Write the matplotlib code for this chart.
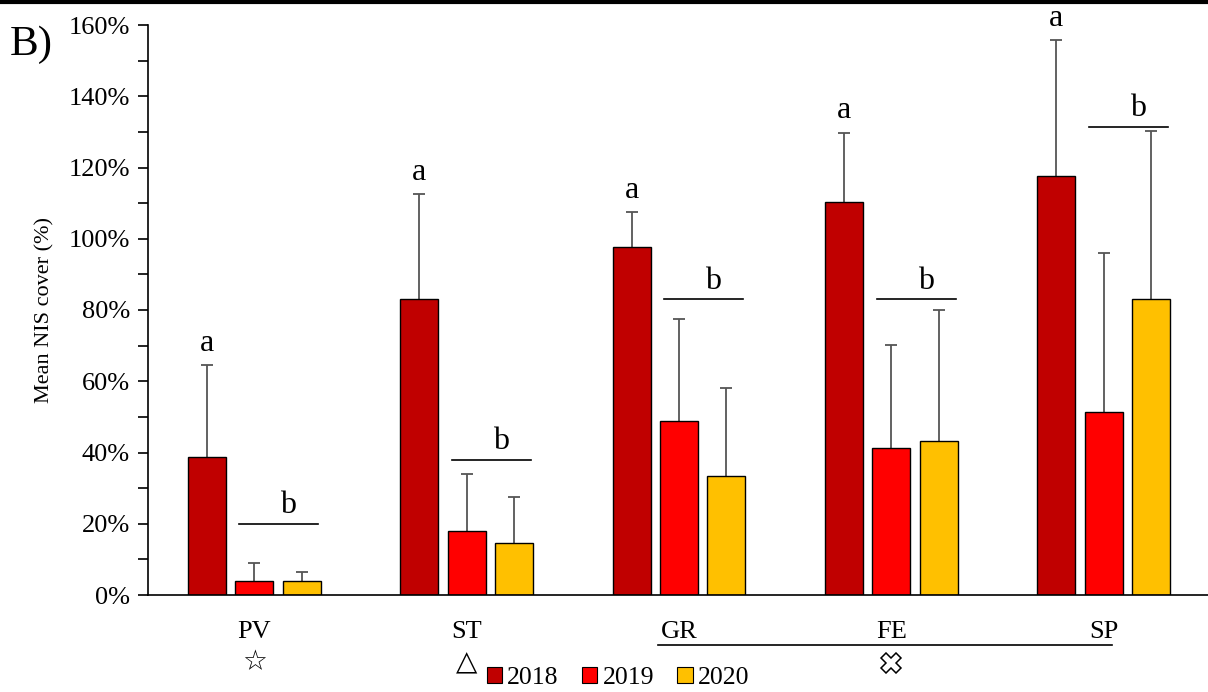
import matplotlib
matplotlib.use("Agg")
import matplotlib.pyplot as plt
import numpy as np
from matplotlib.ticker import MultipleLocator, FuncFormatter
from matplotlib.patches import Patch
from matplotlib.lines import Line2D

plt.rcParams['font.family'] = ['Liberation Serif', 'DejaVu Serif']

categories = ["PV", "ST", "GR", "FE", "SP"]
years = ["2018", "2019", "2020"]
mean_2018 = [38.8, 83.0, 97.8, 110.3, 117.6]
mean_2019 = [4.0, 18.0, 48.9, 41.2, 51.4]
mean_2020 = [4.0, 14.6, 33.4, 43.2, 83.1]
err_2018 = [25.8, 29.5, 9.7, 19.5, 38.2]
err_2019 = [5.0, 16.0, 28.5, 29.1, 44.6]
err_2020 = [2.5, 13.0, 24.7, 36.8, 47.1]
letters_a = ["a", "a", "a", "a", "a"]
letters_b = ["b", "b", "b", "b", "b"]
b_line_level = [20, 38, 83, 83, 131.5]
colors = ["#C00000", "#FF0000", "#FFC000"]
symbols_text = ["\u2606", "\u25B3"]

fig = plt.figure(figsize=(12.08, 6.92), dpi=100)
ax = fig.add_axes([148/1208, 97/692, (1210-148)/1208, 570/692])

x = np.arange(len(categories))
w = 0.179
off = 0.223
means = [mean_2018, mean_2019, mean_2020]
errs = [err_2018, err_2019, err_2020]
for i in range(3):
    xi = x + (i - 1) * off
    ax.errorbar(xi, means[i], yerr=errs[i], fmt="none", ecolor="#555555",
                elinewidth=1.3, capsize=4, capthick=1.3, zorder=1)
    ax.bar(xi, means[i], width=w, color=colors[i], edgecolor="black", linewidth=1.0, zorder=2)

# significance letters
for j in range(5):
    top = mean_2018[j] + err_2018[j]
    ax.text(x[j] - off, top + 2.0, letters_a[j], ha="center", va="bottom", fontsize=23)
    lvl = b_line_level[j]
    ax.plot([x[j] - 0.07, x[j] + off + w/2 - 0.01], [lvl, lvl], color="black", lw=1.2, zorder=3)
    ax.text(x[j] + off/2 + 0.05, lvl + 1.0, letters_b[j], ha="center", va="bottom", fontsize=23)

ax.set_xlim(-0.5, 4.5)
ax.set_ylim(0, 160)
ax.yaxis.set_major_locator(MultipleLocator(20))
ax.yaxis.set_minor_locator(MultipleLocator(10))
ax.yaxis.set_major_formatter(FuncFormatter(lambda v, p: f"{v:.0f}%"))
ax.tick_params(axis="y", which="both", direction="out", length=7, width=1.2, labelsize=19, pad=6)
ax.set_xticks([])
for s in ["top", "right"]:
    ax.spines[s].set_visible(False)
ax.spines["left"].set_linewidth(1.2)
ax.spines["bottom"].set_linewidth(1.2)
ax.set_ylabel("Mean NIS cover (%)", fontsize=16, labelpad=10)

# category labels below axis
for j in range(5):
    ax.text(x[j], -10.4, categories[j], ha="center", va="center", fontsize=19, clip_on=False)
ax.text(x[0], -18.8, symbols_text[0], ha="center", va="center", fontsize=20,
        family=["DejaVu Sans"], clip_on=False)
ax.text(x[1], -18.8, symbols_text[1], ha="center", va="center", fontsize=20,
        family=["DejaVu Sans"], clip_on=False)
ax.plot([x[2] - 0.1, x[4] + 0.04], [-14.1, -14.1], color="black", lw=1.2, clip_on=False)
ax.plot([x[3]], [-19.0], marker="X", markersize=14, markerfacecolor="white",
        markeredgecolor="black", markeredgewidth=1.1, clip_on=False, linestyle="none")

fig.text(10/1208, 1 - 45/692, "B)", fontsize=31, va="center", ha="left")

# top border line
fig.add_artist(Line2D([0, 1], [1 - 1.5/692, 1 - 1.5/692], color="black", lw=3,
                      transform=fig.transFigure))

handles = [Patch(facecolor=colors[i], edgecolor="black", linewidth=0.8) for i in range(3)]
fig.legend(handles, years, loc="center", bbox_to_anchor=(618/1208, 1 - 678/692), ncol=3,
           frameon=False, fontsize=18.5, handlelength=0.6, handleheight=0.6,
           handletextpad=0.2, columnspacing=0.9)

fig.savefig("out.png", dpi=100)
